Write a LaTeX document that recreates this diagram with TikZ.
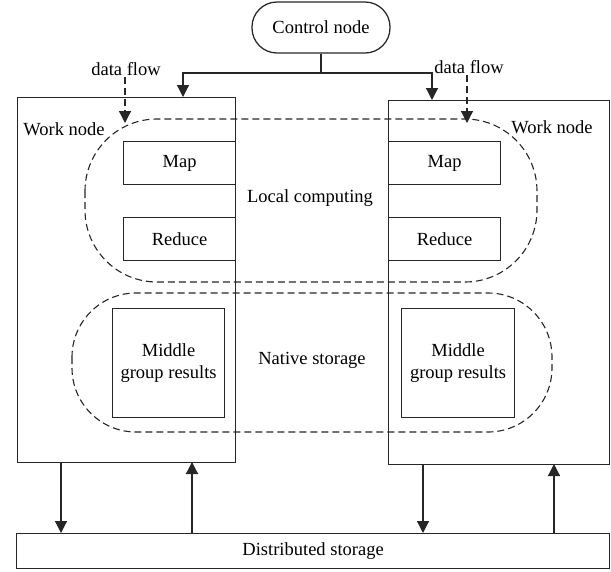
\documentclass[tikz,border=0pt]{standalone}
\usepackage{fontspec}
\setmainfont{Liberation Serif}
\usetikzlibrary{arrows.meta}
\begin{document}
\begin{tikzpicture}[x=1pt,y=-1pt,
  every node/.style={font=\fontsize{18.5}{22}\selectfont},
  line/.style={line width=1.25pt, draw=black!85},
  box/.style={line, rectangle, anchor=north west, inner sep=0pt},
  arr/.style={line, -{Triangle[length=12pt,width=12pt]}},
  dasharr/.style={line, dash pattern=on 7pt off 4pt, -{Triangle[length=12pt,width=12pt]}},
  region/.style={line width=1.1pt, draw=black!85, dash pattern=on 7pt off 4pt}]
\useasboundingbox (0,0) rectangle (611,571);

% control node
\node[line, rectangle, rounded corners=25pt, minimum width=138pt, minimum height=51pt, inner sep=0pt] (ctrl) at (321,27.5) {Control node};

% work nodes
\node[box, minimum width=218pt, minimum height=365pt] (wl) at (17,97) {};
\node[box, minimum width=221pt, minimum height=364pt] (wr) at (388,100) {};
\node (wlt) at (64,129) {Work node};
\node (wrt) at (552,127) {Work node};

% dashed regions
\draw[region, rounded corners=72pt] (85,119) rectangle (537,282);
\draw[region, rounded corners=64pt] (72,293) rectangle (552,432);
\node (lc) at (310,198) {Local computing};
\node (ns) at (312,360) {Native storage};

% map / reduce
\node[box, minimum width=112pt, minimum height=43pt] (mapl) at (123,141) {};
\node at (mapl.center) {Map};
\node[box, minimum width=112pt, minimum height=43pt] (mapr) at (388,141) {};
\node at (mapr.center) {Map};
\node[box, minimum width=112pt, minimum height=43pt] (redl) at (123,217) {};
\node at (redl.center) {Reduce};
\node[box, minimum width=112pt, minimum height=43pt] (redr) at (388,217) {};
\node at (redr.center) {Reduce};

% middle group results
\node[box, minimum width=112pt, minimum height=109pt] (midl) at (112,308) {};
\node[align=center, inner sep=0pt] at (midl.center) {Middle\\group results};
\node[box, minimum width=113pt, minimum height=109pt] (midr) at (401,308) {};
\node[align=center, inner sep=0pt] at (midr.center) {Middle\\group results};

% distributed storage
\node[box, minimum width=593pt, minimum height=35pt] (ds) at (16,533) {};
\node at (ds.center) {Distributed storage};

% control connectors
\coordinate (j) at (321,73);
\coordinate (tl) at (183,97);
\coordinate (tr) at (432,100);
\draw[line] (ctrl.south) -- (j);
\draw[arr] (j) -| (tl);
\draw[arr] (j) -| (tr);

% data flow
\node[inner sep=1pt] (dfl) at (126,69) {data flow};
\node[inner sep=1pt] (dfr) at (469,67) {data flow};
\coordinate (el) at (125,123);
\coordinate (er) at (467,123);
\draw[dasharr] (dfl.south -| el) -- (el);
\draw[dasharr] (dfr.south -| er) -- (er);

% storage connectors
\coordinate (a1) at (61,462);  \coordinate (b1) at (61,533);
\coordinate (a2) at (192,462); \coordinate (b2) at (192,533);
\coordinate (a3) at (423,464); \coordinate (b3) at (423,533);
\coordinate (a4) at (554,464); \coordinate (b4) at (554,533);
\draw[arr] (a1) -- (b1);
\draw[arr] (b2) -- (a2);
\draw[arr] (a3) -- (b3);
\draw[arr] (b4) -- (a4);
\end{tikzpicture}
\end{document}
